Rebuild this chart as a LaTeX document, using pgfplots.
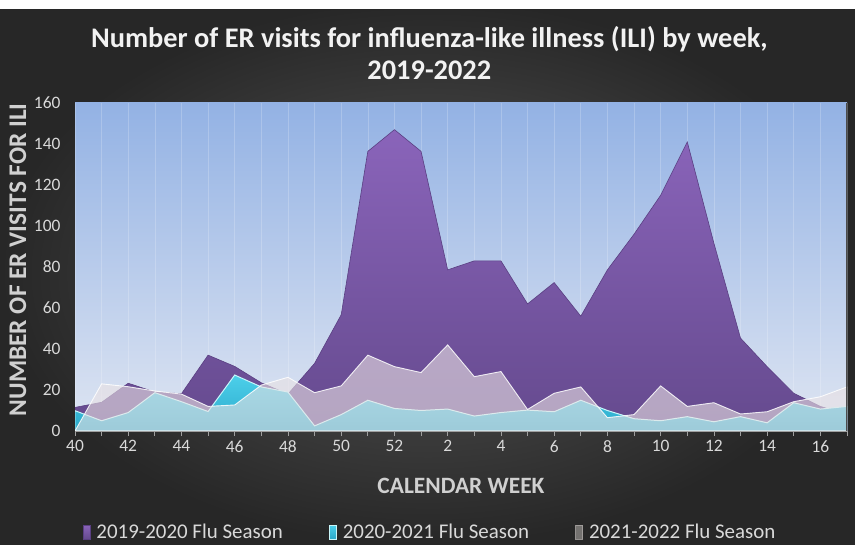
\documentclass[border=0pt]{standalone}
\usepackage{pgfplots}
\pgfplotsset{compat=1.18}
\usepackage{pgfplotstable}
\usepackage{fontspec}
\setmainfont{Carlito}
\definecolor{bgIn}{HTML}{575757}
\definecolor{bgOut}{HTML}{272727}
\definecolor{plotTop}{HTML}{93B2E4}
\definecolor{plotBot}{HTML}{DEE5F2}
\definecolor{purpTop}{HTML}{8A64BA}
\definecolor{purpBot}{HTML}{654A8E}
\definecolor{purpEdge}{HTML}{5A3F82}
\definecolor{cyanTop}{HTML}{4CCFEA}
\definecolor{cyanBot}{HTML}{2BA9CA}
\definecolor{cyanEdge}{HTML}{C8F6FA}
\definecolor{grayFill}{HTML}{EAE2E4}
\definecolor{grayLeg}{HTML}{A8A4A2}
\definecolor{tickCol}{HTML}{D9D9D9}
\definecolor{labCol}{HTML}{D0D0D0}
\definecolor{titleCol}{HTML}{F2F2F2}

\pgfplotstableread{
x p c g
0 11.5 9.9 0
1 14 5 23
2 23.3 9 21.6
3 19 18.7 19.5
4 18.2 14.3 18
5 37 9.5 12
6 31.5 27.3 12.7
7 23.5 21.5 22.4
8 18 19 26.2
9 33 2.5 18.7
10 56.7 8 22
11 136.4 15 37
12 147 11 31.4
13 136.4 10 28.5
14 78.6 10.7 42
15 83 7.3 26.5
16 83 9 29
17 62 10.2 10.5
18 72.4 9.4 18.4
19 56 15 21.5
20 78.6 10 6.5
21 96 6 8
22 115 5 22
23 141 7 12
24 91.6 4.5 13.8
25 45.3 7 8.3
26 31.4 4 9.4
27 18.4 13.8 14.3
28 12 10.7 16.7
29 8 12 21.5
}\flu

\begin{document}
\begin{tikzpicture}
\shade[inner color=bgIn, outer color=bgOut] (0,0) rectangle (855bp,545bp);
\fill[white] (0,536bp) rectangle (855bp,545bp);
\begin{axis}[
  at={(75bp,114bp)}, anchor=south west,
  scale only axis, width=772bp, height=328bp,
  xmin=0, xmax=29, ymin=0, ymax=160,
  xtick={0,...,29},
  xticklabels={40,,42,,44,,46,,48,,50,,52,,2,,4,,6,,8,,10,,12,,14,,16,},
  ytick={0,20,...,160},
  axis background/.style={top color=plotTop, bottom color=plotBot},
  axis x line*=bottom, axis y line*=left,
  x axis line style={-, draw=gray!75, line width=1.2pt},
  y axis line style={draw=none},
  xtick style={draw=gray!75, line width=0.8pt},
  ytick style={draw=none},
  tick align=outside, major tick length=5bp,
  xmajorgrids, grid style={white, opacity=0.2, line width=0.6pt},
  /pgf/number format/assume math mode=true,
  ticklabel style={font=\fontsize{17.5}{20}\selectfont, text=tickCol},
  yticklabel style={xshift=-6bp},
  xticklabel style={yshift=-1bp},
  title={Number of ER visits for influenza-like illness (ILI) by week,\\2019-2022},
  title style={font=\fontsize{28.5}{32}\selectfont\bfseries, text=titleCol, align=center,
    at={(axis description cs:0.459,1.134)}, anchor=center},
  xlabel={CALENDAR WEEK},
  xlabel style={font=\fontsize{23.5}{28}\selectfont\bfseries, text=labCol,
    at={(axis description cs:0.5,-0.168)}, anchor=center},
  ylabel={NUMBER OF ER VISITS FOR ILI},
  ylabel style={font=\fontsize{25.5}{28}\selectfont\bfseries, text=labCol,
    at={(axis description cs:-0.074,0.522)}, anchor=center},
  legend columns=3,
  legend style={at={(axis description cs:0.46,-0.308)}, anchor=center,
    draw=none, fill=none, text=tickCol, font=\fontsize{21}{24}\selectfont,
    /tikz/every odd column/.append style={column sep=4bp},
    /tikz/every even column/.append style={column sep=44bp}},
]
\addplot[top color=purpTop, bottom color=purpBot, draw=purpEdge, line width=0.6pt,
  legend image code/.code={\shade[top color=purpTop, bottom color=purpBot] (0bp,-7bp) rectangle (7bp,7bp);}]
  table[x=x,y=p]{\flu} \closedcycle;
\addlegendentry{2019-2020 Flu Season}
\addplot[top color=cyanTop, bottom color=cyanBot, draw=cyanEdge, line width=1pt,
  legend image code/.code={\shade[top color=cyanTop, bottom color=cyanBot] (0bp,-7bp) rectangle (7bp,7bp);}]
  table[x=x,y=c]{\flu} \closedcycle;
\addlegendentry{2020-2021 Flu Season}
\addplot[fill=grayFill, fill opacity=0.6, draw=white, draw opacity=0.85, line width=0.9pt,
  legend image code/.code={\fill[grayLeg] (0bp,-7bp) rectangle (7bp,7bp);}]
  table[x=x,y=g]{\flu} \closedcycle;
\addlegendentry{2021-2022 Flu Season}
\draw[gray!60!black, line width=1.5pt] (rel axis cs:1,0) -- (rel axis cs:1,1);
\end{axis}
\pgfresetboundingbox
\useasboundingbox (0,0) rectangle (855bp,545bp);
\end{tikzpicture}
\end{document}
